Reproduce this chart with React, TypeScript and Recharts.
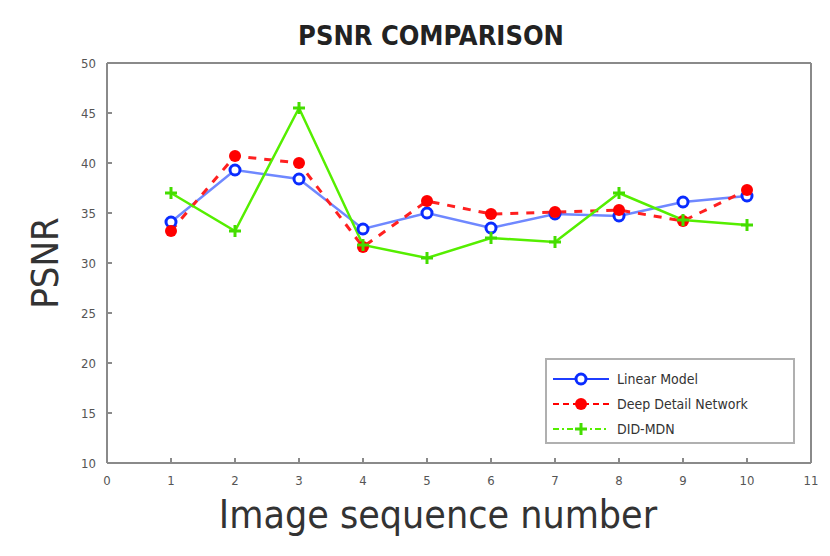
import React from "react";
import { LineChart, Line, XAxis, YAxis } from "recharts";

const imageIndex = [1, 2, 3, 4, 5, 6, 7, 8, 9, 10];
const linearModel = [34.1, 39.3, 38.4, 33.4, 35.0, 33.5, 34.9, 34.7, 36.1, 36.7];
const deepDetail = [33.2, 40.7, 40.0, 31.6, 36.2, 34.9, 35.1, 35.3, 34.2, 37.3];
const didMdn = [37.0, 33.2, 45.5, 31.8, 30.5, 32.5, 32.1, 37.0, 34.3, 33.8];
const xTicks = [0, 1, 2, 3, 4, 5, 6, 7, 8, 9, 10, 11];
const yTicks = [10, 15, 20, 25, 30, 35, 40, 45, 50];
const seriesNames = ["Linear Model", "Deep Detail Network", "DID-MDN"];
const seriesColors = ["#1f3dff", "#ff0000", "#55ee00"];

const data = imageIndex.map((x, i) => ({
  x,
  linear: linearModel[i],
  deep: deepDetail[i],
  did: didMdn[i],
}));

const FONT = "'DejaVu Sans Condensed', 'Liberation Sans Narrow', 'Liberation Sans', sans-serif";
const AXIS = "#8a8a8a";

const CircleDot = (props: any) => {
  const { cx, cy } = props;
  if (cx == null || cy == null) return null;
  return <circle cx={cx} cy={cy} r={5} fill="#ffffff" stroke="#0a2cff" strokeWidth={3} />;
};
const RedDot = (props: any) => {
  const { cx, cy } = props;
  if (cx == null || cy == null) return null;
  return <circle cx={cx} cy={cy} r={6} fill="#ff0000" stroke="none" />;
};
const PlusDot = (props: any) => {
  const { cx, cy } = props;
  if (cx == null || cy == null) return null;
  return (
    <g stroke="#44dd00" strokeWidth={3}>
      <line x1={cx - 6} y1={cy} x2={cx + 6} y2={cy} />
      <line x1={cx} y1={cy - 6} x2={cx} y2={cy + 6} />
    </g>
  );
};

const LegendBox = () => {
  const rows = [
    { name: seriesNames[0], color: seriesColors[0], dash: undefined as any, marker: "circle" },
    { name: seriesNames[1], color: seriesColors[1], dash: "6 4", marker: "dot" },
    { name: seriesNames[2], color: seriesColors[2], dash: "6 3 2 3", marker: "plus" },
  ];
  return (
    <div
      style={{
        position: "absolute",
        left: 545,
        top: 358,
        width: 250,
        height: 86,
        border: "2px solid #b0b0b0",
        background: "#ffffff",
        boxSizing: "border-box",
        padding: "6px 0 0 4px",
        fontFamily: FONT,
      }}
    >
      {rows.map((r) => (
        <div key={r.name} style={{ display: "flex", alignItems: "center", height: 25 }}>
          <svg width={60} height={20}>
            <line x1={2} y1={10} x2={58} y2={10} stroke={r.color} strokeWidth={2} strokeDasharray={r.dash} />
            {r.marker === "circle" && <circle cx={30} cy={10} r={5} fill="#fff" stroke="#0a2cff" strokeWidth={3} />}
            {r.marker === "dot" && <circle cx={30} cy={10} r={6} fill="#ff0000" />}
            {r.marker === "plus" && (
              <g stroke="#44dd00" strokeWidth={3}>
                <line x1={24} y1={10} x2={36} y2={10} />
                <line x1={30} y1={4} x2={30} y2={16} />
              </g>
            )}
          </svg>
          <span style={{ fontSize: 14, color: "#333", marginLeft: 6 }}>{r.name}</span>
        </div>
      ))}
    </div>
  );
};

export default function App() {
  return (
    <div style={{ position: "absolute", left: 0, top: 0, width: 830, height: 556, background: "#fff" }}>
      <LineChart
        width={830}
        height={556}
        data={data}
        margin={{ top: 33, right: 9, bottom: 63, left: 77 }}
      >
        <XAxis
          xAxisId="b"
          dataKey="x"
          type="number"
          domain={[0, 11]}
          ticks={xTicks}
          interval={0}
          height={30}
          stroke={AXIS}
          strokeWidth={2}
          tickSize={-5}
          tickMargin={18}
          tick={{ fill: "#555", fontSize: 13, fontFamily: FONT }}
        />
        <XAxis
          xAxisId="t"
          dataKey="x"
          type="number"
          orientation="top"
          domain={[0, 11]}
          ticks={xTicks}
          interval={0}
          height={30}
          stroke={AXIS}
          strokeWidth={2}
          tickSize={-5}
          tick={false}
        />
        <YAxis
          yAxisId="l"
          type="number"
          domain={[10, 50]}
          ticks={yTicks}
          interval={0}
          width={30}
          stroke={AXIS}
          strokeWidth={2}
          tickSize={-5}
          tickMargin={16}
          tick={{ fill: "#555", fontSize: 13, fontFamily: FONT }}
        />
        <YAxis
          yAxisId="r"
          orientation="right"
          type="number"
          domain={[10, 50]}
          ticks={yTicks}
          interval={0}
          width={10}
          stroke={AXIS}
          strokeWidth={2}
          tickSize={-5}
          tick={false}
        />
        <Line
          xAxisId="b"
          yAxisId="l"
          dataKey="linear"
          name={seriesNames[0]}
          stroke="#6f88ff"
          strokeWidth={2.5}
          dot={<CircleDot />}
          isAnimationActive={false}
        />
        <Line
          xAxisId="b"
          yAxisId="l"
          dataKey="deep"
          name={seriesNames[1]}
          stroke="#ff2020"
          strokeWidth={3}
          strokeDasharray="8 8"
          dot={<RedDot />}
          isAnimationActive={false}
        />
        <Line
          xAxisId="b"
          yAxisId="l"
          dataKey="did"
          name={seriesNames[2]}
          stroke={seriesColors[2]}
          strokeWidth={2.5}
          dot={<PlusDot />}
          isAnimationActive={false}
        />
      </LineChart>
      <LegendBox />
      <div
        style={{
          position: "absolute",
          left: 0,
          width: 862,
          top: 20,
          textAlign: "center",
          fontFamily: FONT,
          fontWeight: "bold",
          fontSize: 27,
          color: "#222",
        }}
      >
        PSNR COMPARISON
      </div>
      <div
        style={{
          position: "absolute",
          left: 45,
          top: 263,
          transform: "translate(-50%, -50%) rotate(-90deg)",
          fontFamily: FONT,
          fontSize: 38,
          color: "#333",
          whiteSpace: "nowrap",
        }}
      >
        PSNR
      </div>
      <div
        style={{
          position: "absolute",
          left: 0,
          width: 876,
          top: 492,
          textAlign: "center",
          fontFamily: FONT,
          fontSize: 39,
          color: "#333",
          whiteSpace: "nowrap",
        }}
      >
        Image sequence number
      </div>
    </div>
  );
}
